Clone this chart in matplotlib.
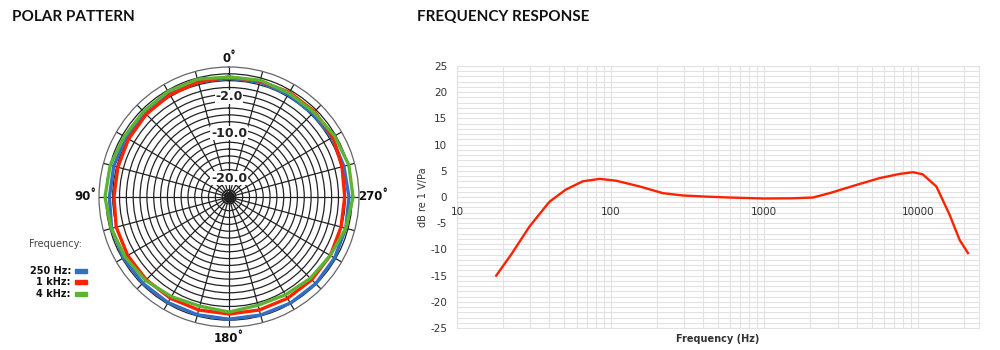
import numpy as np
import matplotlib
matplotlib.use("Agg")
import matplotlib.pyplot as plt
from matplotlib.ticker import FixedLocator, NullFormatter

# ---------------- data ----------------
polar_angles_deg = [0, 15, 30, 45, 60, 75, 90, 105, 120, 135, 150, 165,
                    180, 195, 210, 225, 240, 255, 270, 285, 300, 315, 330, 345]
# radius as percent of outer ring
resp_250hz = [91.5, 91.5, 91.5, 91.5, 91.5, 91.8, 92.0, 93.5, 93.8, 93.8, 93.8, 93.8,
              94.0, 94.0, 94.3, 94.3, 93.8, 93.0, 92.3, 91.5, 91.5, 91.0, 91.0, 91.5]
resp_1khz = [92.3, 91.5, 90.8, 90.0, 89.2, 88.5, 88.5, 89.8, 90.0, 90.0, 90.0, 90.0,
             90.0, 90.0, 90.0, 90.0, 90.0, 89.2, 89.0, 90.0, 92.3, 93.0, 93.0, 92.3]
resp_4khz = [92.3, 93.8, 93.8, 93.0, 93.0, 94.6, 95.4, 93.8, 92.3, 90.8, 88.5, 86.9,
             88.5, 86.2, 86.9, 88.5, 90.0, 93.0, 95.4, 95.4, 93.8, 92.3, 92.3, 93.0]
polar_series = [("250 Hz:", resp_250hz, "#2f6fc4"),
                ("1 kHz:", resp_1khz, "#ff2200"),
                ("4 kHz:", resp_4khz, "#5cb531")]
ring_labels = ["-2.0", "-10.0", "-20.0"]
ring_label_radius = [77, 49, 14.6]
angle_labels = ["0˚", "90˚", "180˚", "270˚"]

freq_hz = [18, 22.5, 29.7, 35, 40, 51, 66, 85, 109, 155, 219, 295, 400, 594,
           1000, 1500, 2075, 2660, 3776, 5630, 7600, 9280, 10730, 13200,
           16100, 18700, 21200]
freq_db = [-15.0, -11.0, -5.6, -3.0, -0.9, 1.4, 3.0, 3.46, 3.1, 2.0, 0.73, 0.29,
           0.1, -0.1, -0.29, -0.25, -0.1, 0.73, 2.1, 3.6, 4.4, 4.73, 4.35, 2.0,
           -3.4, -8.2, -10.7]
freq_tick_values = [10, 100, 1000, 10000]
freq_tick_labels = ["10", "100", "1000", "10000"]
db_ticks = [-25, -20, -15, -10, -5, 0, 5, 10, 15, 20, 25]

# ---------------- figure ----------------
fig = plt.figure(figsize=(10, 3.5), dpi=100)
fig.patch.set_facecolor("white")
title_font = ["Lato", "DejaVu Sans"]
fig.text(0.012, 0.952, "POLAR PATTERN", fontsize=11, fontweight="bold",
         family=title_font, color="#111111", va="center", ha="left")
fig.text(0.417, 0.952, "FREQUENCY RESPONSE", fontsize=11, fontweight="bold",
         family=title_font, color="#111111", va="center", ha="left")

# ---------------- polar ----------------
R = 130
cx, cy = 229, 197
pax = fig.add_axes([(cx - R) / 1000, 1 - (cy + R) / 350, 2 * R / 1000, 2 * R / 350],
                   projection="polar")
pax.set_theta_zero_location("N")
pax.set_theta_direction(1)
pax.set_ylim(0, 100)
n_rings = 19
pax.set_rticks(np.linspace(0, 100, n_rings + 1)[1:-1])
pax.set_yticklabels([])
pax.set_thetagrids(np.arange(0, 360, 15), labels=[""] * 24)
pax.grid(True, color="#222222", linewidth=0.9)
pax.spines["polar"].set_color("#666666")
pax.spines["polar"].set_linewidth(0.9)
pax.tick_params(pad=0)

theta = np.deg2rad(polar_angles_deg + [polar_angles_deg[0]])
for name, vals, col in polar_series:
    pax.plot(theta, vals + [vals[0]], color=col, linewidth=2.4, zorder=5)
pax.plot([0], [0], "o", color="#222222", markersize=7, zorder=6)

for lab, rr in zip(ring_labels, ring_label_radius):
    pax.text(0, rr, lab, ha="center", va="center", fontsize=9, fontweight="bold",
             color="#222222", zorder=7,
             bbox=dict(boxstyle="square,pad=0.05", facecolor="white", edgecolor="none"))

ang_pos = [(229, 58), (85, 197), (229, 338), (373, 197)]
for lab, (x, y) in zip(angle_labels, ang_pos):
    fig.text(x / 1000, 1 - y / 350, lab, ha="center", va="center", fontsize=8.5,
             fontweight="bold", color="#111111")

# legend
fig.text(29 / 1000, 1 - 244 / 350, "Frequency:", fontsize=7, color="#444444",
         ha="left", va="center")
for i, (name, vals, col) in enumerate(polar_series):
    y = [271, 282, 294][i]
    fig.text(71 / 1000, 1 - y / 350, name, fontsize=7, fontweight="bold",
             color="#111111", ha="right", va="center")
    fig.patches.append(plt.Rectangle((75 / 1000, 1 - (y + 2) / 350), 12 / 1000, 4 / 350,
                                     transform=fig.transFigure, color=col,
                                     figure=fig))

# ---------------- frequency response ----------------
ax = fig.add_axes([0.457, 1 - 328 / 350, 0.979 - 0.457, (328 - 66) / 350])
ax.set_xscale("log")
ax.set_xlim(10, 25000)
ax.set_ylim(-25, 25)
grid_col = "#e2e2e2"
ax.xaxis.set_major_locator(FixedLocator(freq_tick_values))
ax.xaxis.set_minor_locator(FixedLocator(
    [m * 10 ** e for e in range(1, 5) for m in range(2, 10) if m * 10 ** e < 25000]))
ax.xaxis.set_major_formatter(NullFormatter())
ax.xaxis.set_minor_formatter(NullFormatter())
ax.set_yticks(db_ticks)
ax.set_yticks(np.arange(-25, 26, 1), minor=True)
ax.set_yticklabels([str(v) for v in db_ticks], fontsize=7.5, color="#333333")
ax.tick_params(which="both", length=0, pad=7)
ax.grid(True, which="both", color=grid_col, linewidth=0.8)
for s in ax.spines.values():
    s.set_color(grid_col)
    s.set_linewidth(0.8)
ax.set_axisbelow(True)
ax.plot(freq_hz, freq_db, color="#ff2200", linewidth=1.7)
for v, lab in zip(freq_tick_values, freq_tick_labels):
    ax.text(v, -2.9, lab, ha="center", va="center", fontsize=7.5, color="#333333")
fig.text(423 / 1000, 1 - 197 / 350, "dB re 1 V/Pa", fontsize=7, color="#333333",
         rotation=90, ha="center", va="center")
fig.text(718 / 1000, 1 - 339 / 350, "Frequency (Hz)", fontsize=7, color="#333333",
         fontweight="semibold", ha="center", va="center")

fig.savefig("out.png", dpi=100, facecolor="white")
